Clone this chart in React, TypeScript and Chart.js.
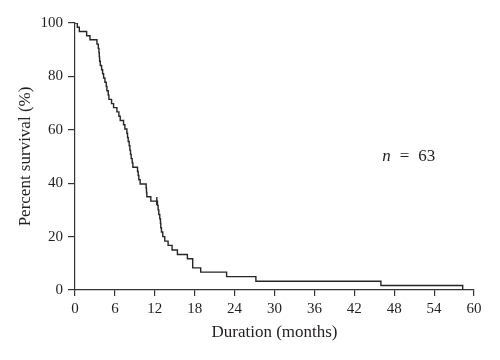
import React, { useEffect, useRef } from "react";
import { Chart, registerables } from "chart.js";

Chart.register(...registerables);

// Kaplan–Meier curve: event times (months) and survival (%) after each step
const eventTimes = [
  0, 0.35, 0.65, 1.75, 2.25, 3.3, 3.5, 3.6, 3.65, 3.7, 3.8, 4.0, 4.15, 4.3, 4.5,
  4.7, 4.8, 5.0, 5.1, 5.5, 5.8, 6.3, 6.6, 6.8, 7.3, 7.5, 7.8, 7.9, 8.0, 8.15,
  8.25, 8.35, 8.45, 8.6, 8.7, 9.4, 9.5, 9.6, 9.8, 10.7, 10.75, 10.8, 11.4, 12.4,
  12.5, 12.6, 12.75, 12.85, 12.9, 13.0, 13.2, 13.5, 14.0, 14.6, 15.4, 16.9, 17.7,
  17.7, 18.9, 22.8, 27.2, 46.0, 58.3,
];
const survival = [
  100, 98.4, 96.8, 95.2, 93.7, 92.1, 90.5, 88.9, 87.3, 85.7, 84.1, 82.5, 81.0,
  79.4, 77.8, 76.2, 74.6, 73.0, 71.4, 69.8, 68.3, 66.7, 65.1, 63.5, 61.9, 60.3,
  58.7, 57.1, 55.6, 54.0, 52.4, 50.8, 49.2, 47.6, 46.0, 44.4, 42.9, 41.3, 39.7,
  38.1, 36.5, 34.9, 33.3, 31.7, 30.0, 28.3, 26.7, 25.0, 23.3, 21.7, 20.0, 18.3,
  16.7, 15.0, 13.3, 11.7, 10.0, 8.3, 6.7, 5.0, 3.3, 1.7, 0,
];
// censored observation
const censorTimes = [12.3];
const censorSurvival = [33.3];

const xTitle = "Duration (months)";
const yTitle = "Percent survival (%)";
const sampleSizeParts = ["n", "=", "63"];
const sampleSizeAt = [46.2, 50];

const INK = "#231f20";
const FONT = '"Liberation Serif", "Times New Roman", serif';

const annotationPlugin = {
  id: "sampleSize",
  afterDraw(chart: any) {
    const { ctx, scales } = chart;
    let x = scales.x.getPixelForValue(sampleSizeAt[0]);
    const y = scales.y.getPixelForValue(sampleSizeAt[1]);
    ctx.save();
    ctx.fillStyle = INK;
    ctx.textBaseline = "middle";
    ctx.textAlign = "left";
    sampleSizeParts.forEach((part, i) => {
      ctx.font = i === 0 ? `italic 17px ${FONT}` : `17px ${FONT}`;
      ctx.fillText(part, x, y);
      x += ctx.measureText(part).width + 9;
    });
    ctx.restore();
  },
};

export default function App() {
  const ref = useRef<HTMLCanvasElement | null>(null);

  useEffect(() => {
    document.body.style.margin = "0";
    const canvas = ref.current;
    if (!canvas) return;
    const curve = eventTimes.map((t, i) => ({ x: t, y: survival[i] }));
    const censored = censorTimes.map((t, i) => ({ x: t, y: censorSurvival[i] }));

    const chart = new Chart(canvas, {
      type: "line",
      data: {
        datasets: [
          {
            data: curve,
            stepped: true,
            borderColor: "#262626",
            borderWidth: 1.4,
            pointRadius: 0,
            fill: false,
          },
          {
            data: censored,
            showLine: false,
            pointStyle: "line",
            rotation: 90,
            pointRadius: 4,
            borderColor: "#262626",
            borderWidth: 1.4,
          } as any,
        ],
      },
      options: {
        animation: false,
        responsive: false,
        events: [],
        layout: { padding: { left: 0, top: 23, right: 26, bottom: 0 } },
        plugins: { legend: { display: false }, tooltip: { enabled: false } },
        scales: {
          x: {
            type: "linear",
            min: 0,
            max: 60,
            afterFit: (s: any) => {
              s.height = 70;
            },
            ticks: {
              stepSize: 6,
              color: INK,
              font: { family: FONT, size: 15 },
              padding: 4,
              maxRotation: 0,
            },
            grid: {
              display: true,
              drawOnChartArea: false,
              drawTicks: true,
              tickLength: 6,
              color: "#333",
              lineWidth: 1.2,
            },
            border: { display: true, color: "#333", width: 1.2 },
            title: {
              display: true,
              text: xTitle,
              color: INK,
              font: { family: FONT, size: 17 },
              padding: { top: 0, bottom: 17 },
            },
          },
          y: {
            type: "linear",
            min: 0,
            max: 100,
            afterFit: (s: any) => {
              s.width = 75;
            },
            ticks: {
              stepSize: 20,
              color: INK,
              font: { family: FONT, size: 15 },
              padding: 5,
            },
            grid: {
              display: true,
              drawOnChartArea: false,
              drawTicks: true,
              tickLength: 7,
              color: "#333",
              lineWidth: 1.2,
            },
            border: { display: true, color: "#333", width: 1.2 },
            title: {
              display: true,
              text: yTitle,
              color: INK,
              font: { family: FONT, size: 17 },
              padding: { top: 15, bottom: 0 },
            },
          },
        },
      },
      plugins: [annotationPlugin],
    });
    return () => chart.destroy();
  }, []);

  return (
    <div style={{ width: 500, height: 360, background: "#fff" }}>
      <canvas ref={ref} width={500} height={360} />
    </div>
  );
}
